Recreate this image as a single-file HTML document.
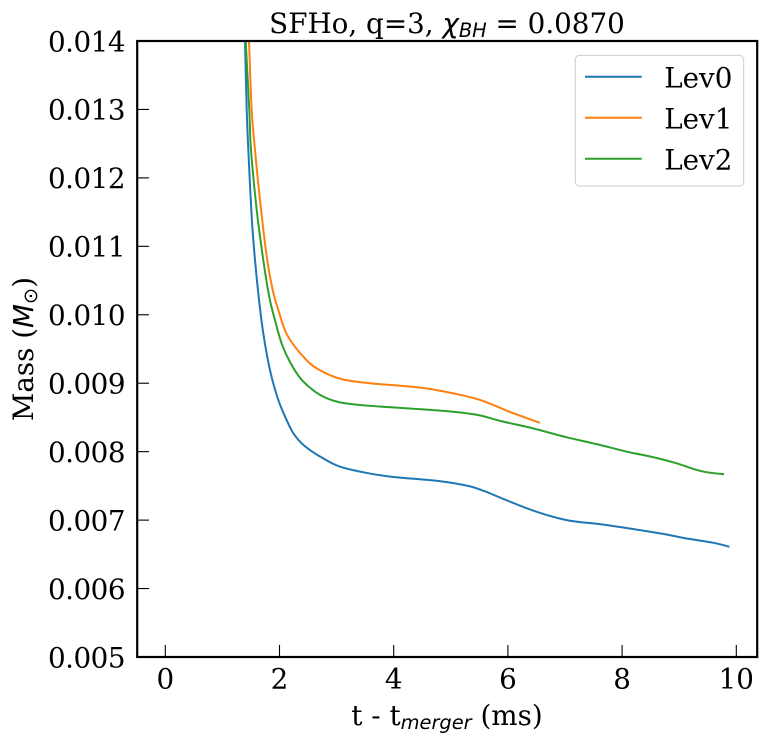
<!DOCTYPE html>
<html>
<head>
<meta charset="utf-8">
<style>
html,body{margin:0;padding:0;background:#fff;width:766px;height:745px;overflow:hidden}
svg{display:block}
text{font-family:"DejaVu Serif","Liberation Serif",serif;fill:#000;font-size:27.78px}
.m{font-family:"DejaVu Sans","Liberation Sans",sans-serif;font-style:italic}
</style>
</head>
<body>
<svg id="chart" width="766" height="745" viewBox="0 0 766 745" xmlns="http://www.w3.org/2000/svg">
  <defs><clipPath id="plot-clip"><rect x="137.2" y="41" width="620" height="616"/></clipPath></defs>
  <rect x="0" y="0" width="766" height="745" fill="#fff"/>
  <g id="series" clip-path="url(#plot-clip)"></g>
  <g id="ticks"></g>
  <rect x="137.2" y="41" width="620" height="616" fill="none" stroke="#000" stroke-width="2.2"/>
  <text x="447" y="32.8" text-anchor="middle">SFHo, q=3, <tspan class="m">χ</tspan><tspan class="m" font-size="19.4" dy="4">BH</tspan><tspan dy="-4"> = 0.0870</tspan></text>
  <text x="447" y="725" text-anchor="middle">t - t<tspan class="m" font-size="19.4" dy="4">merger</tspan><tspan dy="-4"> (ms)</tspan></text>
  <text transform="translate(33,349) rotate(-90)" text-anchor="middle">Mass (<tspan class="m">M</tspan><tspan font-family="DejaVu Sans" font-size="19.4" dy="4">⊙</tspan><tspan dy="-4">)</tspan></text>
  <g>
    <rect x="575.4" y="55.4" width="168.2" height="130.6" rx="4" ry="4" fill="#fff" fill-opacity="0.8" stroke="#d5d5d5" stroke-width="1.2"/>
    <g><line x1="585" x2="641.7" y1="76.7" y2="76.7" stroke="#1f77b4" stroke-width="2"/><text x="664.2" y="87.3">Lev0</text></g>
    <g><line x1="585" x2="641.7" y1="117.7" y2="117.7" stroke="#ff7f0e" stroke-width="2"/><text x="664.2" y="128.3">Lev1</text></g>
    <g><line x1="585" x2="641.7" y1="158.7" y2="158.7" stroke="#2ca02c" stroke-width="2"/><text x="664.2" y="169.3">Lev2</text></g>
  </g>
</svg>
<script>
const xTickValues = [0, 2, 4, 6, 8, 10];
const yTickValues = [0.005, 0.006, 0.007, 0.008, 0.009, 0.010, 0.011, 0.012, 0.013, 0.014];
const yTickLabels = ["0.005", "0.006", "0.007", "0.008", "0.009", "0.010", "0.011", "0.012", "0.013", "0.014"];

const lev0Time = [1.396, 1.426, 1.454, 1.513, 1.571, 1.641, 1.716, 1.834, 1.979, 2.126, 2.242, 2.417, 2.709, 3.06, 3.585, 4, 4.8, 5.3, 5.6, 5.862, 6.44, 7.03, 7.62, 8.19, 8.78, 9.07, 9.59, 9.88];
const lev0Mass = [0.014, 0.01299, 0.01241, 0.01143, 0.0108, 0.01022, 0.00973, 0.00919, 0.008755, 0.00846, 0.00827, 0.0081, 0.00793, 0.00778, 0.00768, 0.00763, 0.00757, 0.0075, 0.00742, 0.00733, 0.00714, 0.0070, 0.00694, 0.00687, 0.00679, 0.00674, 0.00667, 0.00661];

const lev1Time = [1.466, 1.513, 1.571, 1.658, 1.776, 1.881, 1.979, 2.137, 2.447, 2.709, 3.089, 3.585, 4.518, 5.219, 5.569, 6.037, 6.562];
const lev1Mass = [0.014, 0.01299, 0.01241, 0.01168, 0.01085, 0.01036, 0.01007, 0.0097, 0.00936, 0.00919, 0.00906, 0.0090, 0.00893, 0.00882, 0.00874, 0.00858, 0.00842];

const lev2Time = [1.408, 1.471, 1.501, 1.601, 1.716, 1.821, 1.921, 2.038, 2.184, 2.389, 2.709, 3.06, 3.585, 4.81, 5.453, 5.862, 6.44, 7.03, 7.555, 8.08, 8.54, 8.956, 9.24, 9.48, 9.785];
const lev2Mass = [0.014, 0.01299, 0.01241, 0.01153, 0.0108, 0.01026, 0.00992, 0.00958, 0.00931, 0.00905, 0.00883, 0.00872, 0.00867, 0.0086, 0.00854, 0.00845, 0.00834, 0.00821, 0.00811, 0.00800, 0.00792, 0.00783, 0.00775, 0.0077, 0.00767];

const NS = 'http://www.w3.org/2000/svg';
function xScale(v) { return 165.3 + v * 57.1; }
function yScale(v) { return 657 - (v - 0.005) * 68444; }

const tickGroup = document.getElementById('ticks');
xTickValues.forEach(function (v) {
  const tick = document.createElementNS(NS, 'line');
  
  
  tick.setAttribute('x1', xScale(v));
  tick.setAttribute('x2', xScale(v));
  tick.setAttribute('y1', 657);
  tick.setAttribute('y2', 645);
  tick.setAttribute('stroke', '#000');
  tick.setAttribute('stroke-width', '1.1');
  tickGroup.appendChild(tick);
  const label = document.createElementNS(NS, 'text');
  
  
  label.setAttribute('x', xScale(v));
  label.setAttribute('y', 688.5);
  label.setAttribute('text-anchor', 'middle');
  label.textContent = String(v);
  tickGroup.appendChild(label);
});
yTickValues.forEach(function (v, i) {
  const tick = document.createElementNS(NS, 'line');
  
  
  tick.setAttribute('x1', 137.2);
  tick.setAttribute('x2', 149);
  tick.setAttribute('y1', yScale(v));
  tick.setAttribute('y2', yScale(v));
  tick.setAttribute('stroke', '#000');
  tick.setAttribute('stroke-width', '1.1');
  tickGroup.appendChild(tick);
  const label = document.createElementNS(NS, 'text');
  
  
  label.setAttribute('x', 125);
  label.setAttribute('y', yScale(v) + 10.3);
  label.setAttribute('text-anchor', 'end');
  label.setAttribute('letter-spacing', '-0.5');
  label.textContent = yTickLabels[i];
  tickGroup.appendChild(label);
});

function smoothPath(times, masses) {
  const p = times.map(function (t, i) { return [xScale(t), yScale(masses[i])]; });
  let d = 'M' + p[0][0].toFixed(2) + ',' + p[0][1].toFixed(2);
  for (let i = 0; i < p.length - 1; i++) {
    const a = p[Math.max(i - 1, 0)], b = p[i], c = p[i + 1], e = p[Math.min(i + 2, p.length - 1)];
    const c1x = b[0] + (c[0] - a[0]) / 6, c1y = b[1] + (c[1] - a[1]) / 6;
    const c2x = c[0] - (e[0] - b[0]) / 6, c2y = c[1] - (e[1] - b[1]) / 6;
    d += ' C' + c1x.toFixed(2) + ',' + c1y.toFixed(2) + ' ' + c2x.toFixed(2) + ',' + c2y.toFixed(2) + ' ' + c[0].toFixed(2) + ',' + c[1].toFixed(2);
  }
  return d;
}

function drawSeries(times, masses, color, name) {
  const line = document.createElementNS(NS, 'path');
  
  
  line.setAttribute('d', smoothPath(times, masses));
  line.setAttribute('fill', 'none');
  line.setAttribute('stroke', color);
  line.setAttribute('stroke-width', '2');
  line.setAttribute('stroke-linejoin', 'round');
  document.getElementById('series').appendChild(line);
}
drawSeries(lev0Time, lev0Mass, '#1f77b4', 'line-lev0');
drawSeries(lev1Time, lev1Mass, '#ff7f0e', 'line-lev1');
drawSeries(lev2Time, lev2Mass, '#2ca02c', 'line-lev2');
</script>
</body>
</html>
